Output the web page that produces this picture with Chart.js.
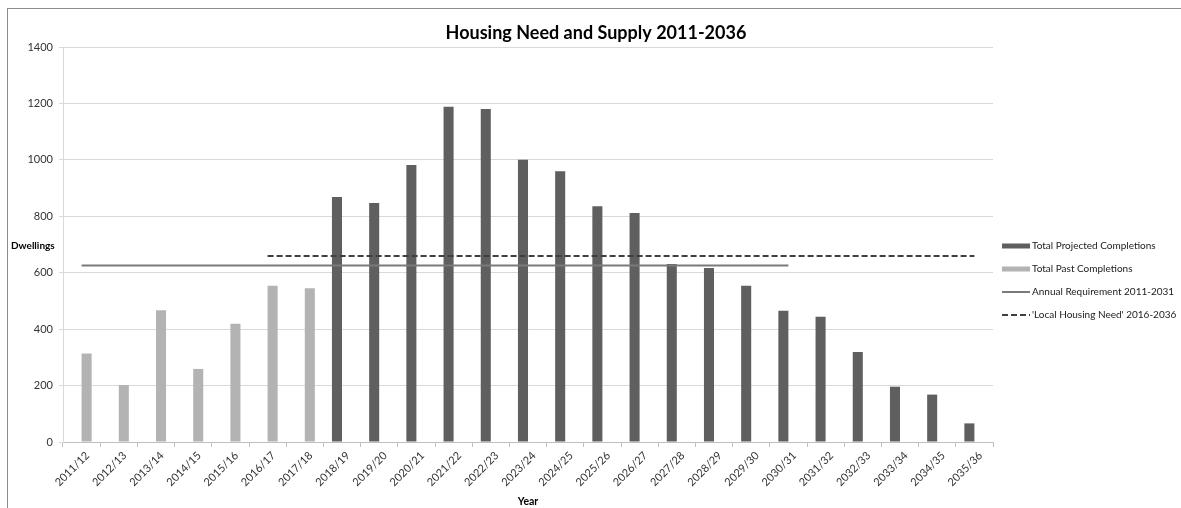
<!DOCTYPE html>
<html lang="en">
<head>
<meta charset="utf-8">
<title>Housing Need and Supply 2011-2036</title>
<script src="https://cdn.jsdelivr.net/npm/chart.js"></script>
<style>
  html, body { margin: 0; padding: 0; background: #fff; }
  #wrap { position: relative; width: 1181px; height: 508px; overflow: hidden; }
  #grafico { position: absolute; left: 0; top: 0; }
  /* thin frame of the original chart object (top and left only are visible) */
  #frame { position: absolute; left: 7px; top: 8px; right: -4px; bottom: -4px;
           border-top: 1px solid #8c8c8c; border-left: 1px solid #8c8c8c; pointer-events: none; }
</style>
</head>
<body>
<div id="wrap">
  <canvas id="grafico" width="1181" height="508"></canvas>
  <div id="frame"></div>
</div>
<script>
/*
  Housing Need and Supply 2011-2036
  - bar series: projected and past completions (grouped, one empty per year)
  - line series: annual requirement and local housing need
*/

// Categories (x axis)
const years = [
  "2011/12", "2012/13", "2013/14", "2014/15", "2015/16", "2016/17", "2017/18",
  "2018/19", "2019/20", "2020/21", "2021/22", "2022/23", "2023/24", "2024/25",
  "2025/26", "2026/27", "2027/28", "2028/29", "2029/30", "2030/31", "2031/32",
  "2032/33", "2033/34", "2034/35", "2035/36"
];

// Total Projected Completions (dark bars)
const projected = [
  null, null, null, null, null, null, null,
  868, 847, 982, 1188, 1180, 1000, 960,
  836, 812, 631, 617, 554, 465, 444,
  319, 196, 168, 66
];

// Total Past Completions (light bars)
const past = [
  314, 202, 467, 259, 419, 554, 545,
  null, null, null, null, null, null, null,
  null, null, null, null, null, null, null,
  null, null, null, null
];

// Annual Requirement 2011-2031 (solid line)
const annualRequirement = [
  626, 626, 626, 626, 626, 626, 626,
  626, 626, 626, 626, 626, 626, 626,
  626, 626, 626, 626, 626, 626, null,
  null, null, null, null
];

// 'Local Housing Need' 2016-2036 (dashed line)
const localNeed = [
  null, null, null, null, null, 659, 659,
  659, 659, 659, 659, 659, 659, 659,
  659, 659, 659, 659, 659, 659, 659,
  659, 659, 659, 659
];

// Y axis tick values
const yTicks = [0, 200, 400, 600, 800, 1000, 1200, 1400];

const FONT = "Lato, 'Open Sans', sans-serif";

// ===== PLUGIN: title, axis title "Dwellings" and right-hand legend =====
const extrasPlugin = {
  id: "extras",
  afterDraw(chart) {
    const ctx = chart.ctx;
    ctx.save();

    // chart title
    ctx.fillStyle = "#000";
    ctx.font = "bold 18px " + FONT;
    ctx.textAlign = "center";
    ctx.textBaseline = "middle";
    ctx.fillText("Housing Need and Supply 2011-2036", 596, 33);

    // y axis title (horizontal, like the original)
    ctx.font = "bold 10px " + FONT;
    ctx.textAlign = "left";
    ctx.fillText("Dwellings", 11, 246);

    // legend
    ctx.font = "10px " + FONT;
    chart.data.datasets.forEach((ds, i) => {
      const x = 1002;
      const y = 246 + i * 23;
      if (ds.type === "line") {
        ctx.strokeStyle = ds.borderColor;
        ctx.lineWidth = ds.borderWidth;
        ctx.setLineDash(ds.borderDash || []);
        ctx.beginPath();
        ctx.moveTo(x, y);
        ctx.lineTo(x + 28, y);
        ctx.stroke();
        ctx.setLineDash([]);
      } else {
        ctx.fillStyle = ds.backgroundColor;
        ctx.fillRect(x, y - 2.5, 28, 5);
      }
      ctx.fillStyle = "#1a1a1a";
      ctx.fillText(ds.label, x + 30, y);
    });

    ctx.restore();
  }
};

// ===== GRAFICO =====
function dibujar() {
  new Chart(document.getElementById("grafico"), {
    type: "bar",
    data: {
      labels: years,
      datasets: [
        {
          label: "Total Projected Completions",
          data: projected,
          backgroundColor: "#5f5f5f",
          categoryPercentage: 0.54,
          barPercentage: 1.0,
          order: 2
        },
        {
          label: "Total Past Completions",
          data: past,
          backgroundColor: "#b3b3b3",
          categoryPercentage: 0.54,
          barPercentage: 1.0,
          order: 2
        },
        {
          type: "line",
          label: "Annual Requirement 2011-2031",
          data: annualRequirement,
          borderColor: "#7a7a7a",
          borderWidth: 2,
          pointRadius: 0,
          fill: false,
          spanGaps: false,
          order: 1
        },
        {
          type: "line",
          label: "'Local Housing Need' 2016-2036",
          data: localNeed,
          borderColor: "#3f3f3f",
          borderWidth: 2,
          borderDash: [6, 3],
          pointRadius: 0,
          fill: false,
          spanGaps: false,
          order: 1
        }
      ]
    },
    options: {
      responsive: false,
      animation: false,
      layout: { padding: { left: 0, top: 47, right: 188, bottom: 0 } },
      plugins: {
        legend: { display: false },
        title: { display: false },
        tooltip: { enabled: false }
      },
      scales: {
        x: {
          offset: true,
          afterFit: s => { s.height = 66; },
          grid: {
            offset: true,
            drawOnChartArea: false,
            drawTicks: true,
            tickLength: 5,
            color: "#bfbfbf"
          },
          border: { color: "#bfbfbf" },
          ticks: {
            autoSkip: false,
            minRotation: 45,
            maxRotation: 45,
            labelOffset: 6,
            padding: 2,
            color: "#333",
            font: { family: FONT, size: 11 }
          },
          title: {
            display: true,
            text: "Year",
            color: "#000",
            padding: 0,
            font: { family: FONT, size: 10.5, weight: "bold" }
          }
        },
        y: {
          min: 0,
          max: 1400,
          afterFit: s => { s.width = 63; },
          afterBuildTicks: s => { s.ticks = yTicks.map(v => ({ value: v })); },
          grid: { color: "#d9d9d9", tickLength: 4 },
          border: { color: "#d9d9d9" },
          ticks: {
            padding: 6,
            color: "#333",
            font: { family: FONT, size: 11 },
            callback: v => String(v)
          }
        }
      }
    },
    plugins: [extrasPlugin]
  });
}

// esperar a que la fuente local esté lista antes de dibujar
Promise.all([
  document.fonts.load("10px Lato"),
  document.fonts.load("bold 18px Lato")
]).then(dibujar, dibujar);
</script>
</body>
</html>
